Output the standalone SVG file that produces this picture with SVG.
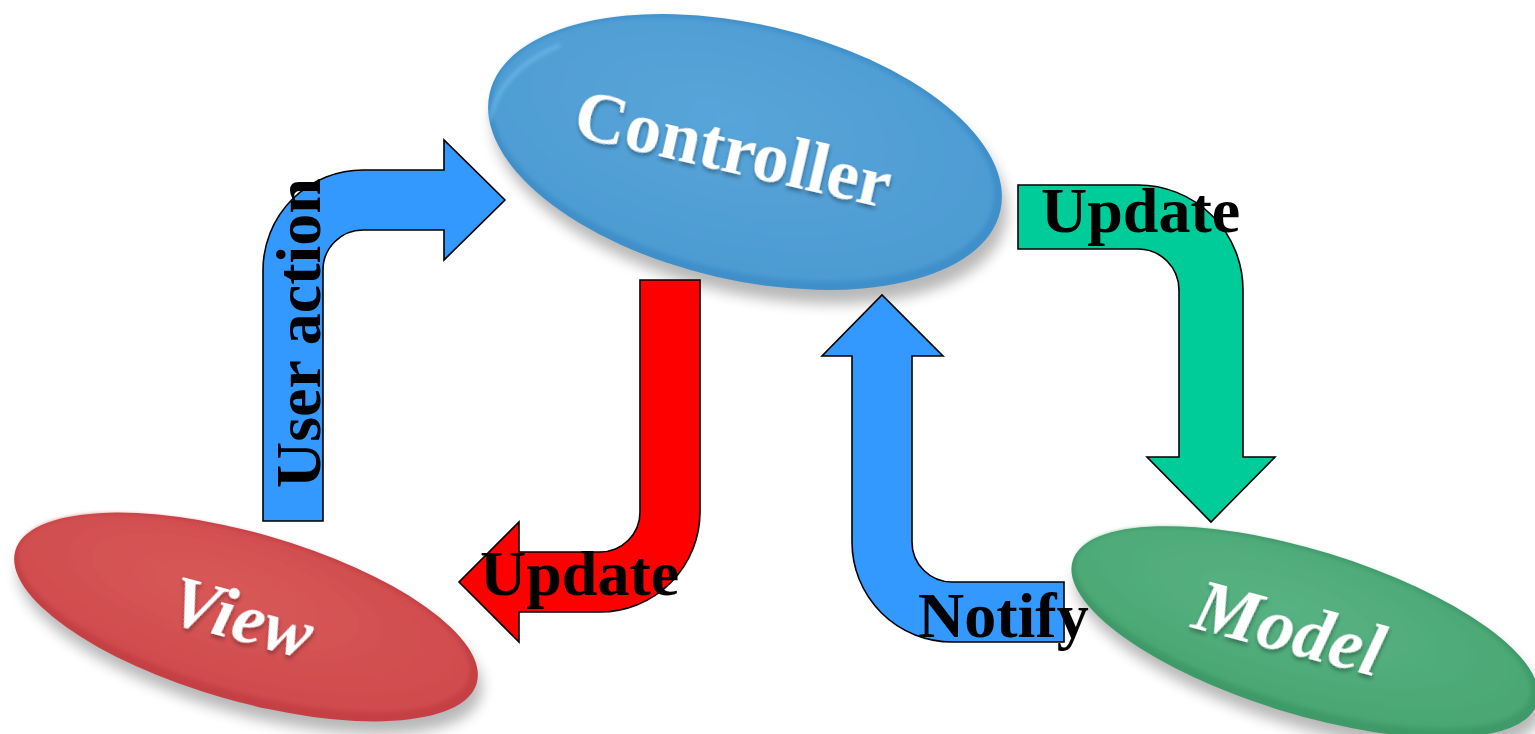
<svg xmlns="http://www.w3.org/2000/svg" width="1535" height="734" viewBox="0 0 1535 734">
<style>
.arrow{stroke:#000;stroke-width:1.6;stroke-linejoin:miter}
.lbl{font-family:"Liberation Serif","Times New Roman",serif;font-weight:bold;font-size:64px;fill:#000}
.nodet{font-family:"Liberation Serif","Times New Roman",serif;font-weight:bold;fill:#fff;filter:url(#tsh)}
</style>
<defs>
<filter id="sh" x="-20%" y="-30%" width="140%" height="160%"><feGaussianBlur stdDeviation="7"/></filter>
<filter id="tsh" x="-10%" y="-30%" width="120%" height="160%"><feDropShadow dx="1" dy="3" stdDeviation="2" flood-color="#000" flood-opacity="0.35"/></filter>
<filter id="soft" x="-10%" y="-10%" width="120%" height="120%"><feGaussianBlur stdDeviation="2"/></filter>
<radialGradient id="gB" cx="0.45" cy="0.4" r="0.6"><stop offset="0" stop-color="#58a5da"/><stop offset="1" stop-color="#4d9bd2"/></radialGradient>
<radialGradient id="gR" cx="0.45" cy="0.4" r="0.6"><stop offset="0" stop-color="#d85858"/><stop offset="1" stop-color="#cf4b4d"/></radialGradient>
<radialGradient id="gG" cx="0.45" cy="0.4" r="0.6"><stop offset="0" stop-color="#58b283"/><stop offset="1" stop-color="#4aa774"/></radialGradient>
</defs>

<g id="controller">
<ellipse cx="750" cy="166" rx="262" ry="128" transform="rotate(13 750 166)" fill="#000" opacity="0.28" filter="url(#sh)"/>
<ellipse cx="745" cy="152" rx="262" ry="128" transform="rotate(13 745 152)" fill="#3f8fca"/>
<ellipse cx="743" cy="149" rx="256" ry="122" transform="rotate(13 743 149)" fill="url(#gB)" filter="url(#soft)"/>
<path d="M490,120 Q500,70 560,45" fill="none" stroke="#7cc4f5" stroke-width="3" opacity="0.7" filter="url(#soft)"/>
<text class="nodet" font-size="72" text-anchor="middle" transform="translate(728,172) rotate(13)">Controller</text>
</g>

<g id="view">
<ellipse cx="250" cy="630" rx="240" ry="84" transform="rotate(16 250 630)" fill="#000" opacity="0.28" filter="url(#sh)"/>
<ellipse cx="246" cy="617" rx="240" ry="84" transform="rotate(16 246 617)" fill="#c54044"/>
<ellipse cx="244" cy="613" rx="234" ry="78" transform="rotate(16 244 613)" fill="url(#gR)" filter="url(#soft)"/>
<text class="nodet" font-size="72" font-style="italic" text-anchor="middle" transform="translate(236,640) rotate(15)">View</text>
</g>

<g id="model">
<ellipse cx="1309" cy="645" rx="243" ry="82" transform="rotate(17 1309 645)" fill="#000" opacity="0.28" filter="url(#sh)"/>
<ellipse cx="1305" cy="632" rx="243" ry="82" transform="rotate(17 1305 632)" fill="#3f9a69"/>
<ellipse cx="1303" cy="628" rx="237" ry="76" transform="rotate(17 1303 628)" fill="url(#gG)" filter="url(#soft)"/>
<text class="nodet" font-size="74" font-style="italic" text-anchor="middle" transform="translate(1283,652) rotate(15)">Model</text>
</g>

<g id="connectors">
<g id="user-action">
<path class="arrow" fill="#3399ff" d="M263,521 L263,270 A100,100 0 0 1 363,170 L444,170 L444,140 L505,200 L444,260 L444,230 L363,230 A40,40 0 0 0 323,270 L323,521 Z"/>
<text class="lbl" transform="translate(320,488) rotate(-90)">User action</text>
</g>
<g id="update-view">
<path class="arrow" fill="#ff0000" d="M640,280 L700,280 L700,512 A100,100 0 0 1 600,612 L519,612 L519,642 L459,582 L519,522 L519,552 L600,552 A40,40 0 0 0 640,512 Z"/>
<text class="lbl" x="480" y="595">Update</text>
</g>
<g id="update-model">
<path class="arrow" fill="#00cc99" d="M1018,185 L1138,185 A105,105 0 0 1 1243,290 L1243,457 L1275,457 L1211,522 L1147,457 L1179,457 L1179,290 A41,41 0 0 0 1138,249 L1018,249 Z"/>
<text class="lbl" x="1041" y="232">Update</text>
</g>
<g id="notify">
<path class="arrow" fill="#3399ff" d="M1064,582 L1064,642 L952,642 A100,100 0 0 1 852,542 L852,356 L822,356 L882,295 L943,356 L912,356 L912,542 A40,40 0 0 0 952,582 Z"/>
<text class="lbl" x="918" y="637">Notify</text>
</g>
</g>
</svg>
